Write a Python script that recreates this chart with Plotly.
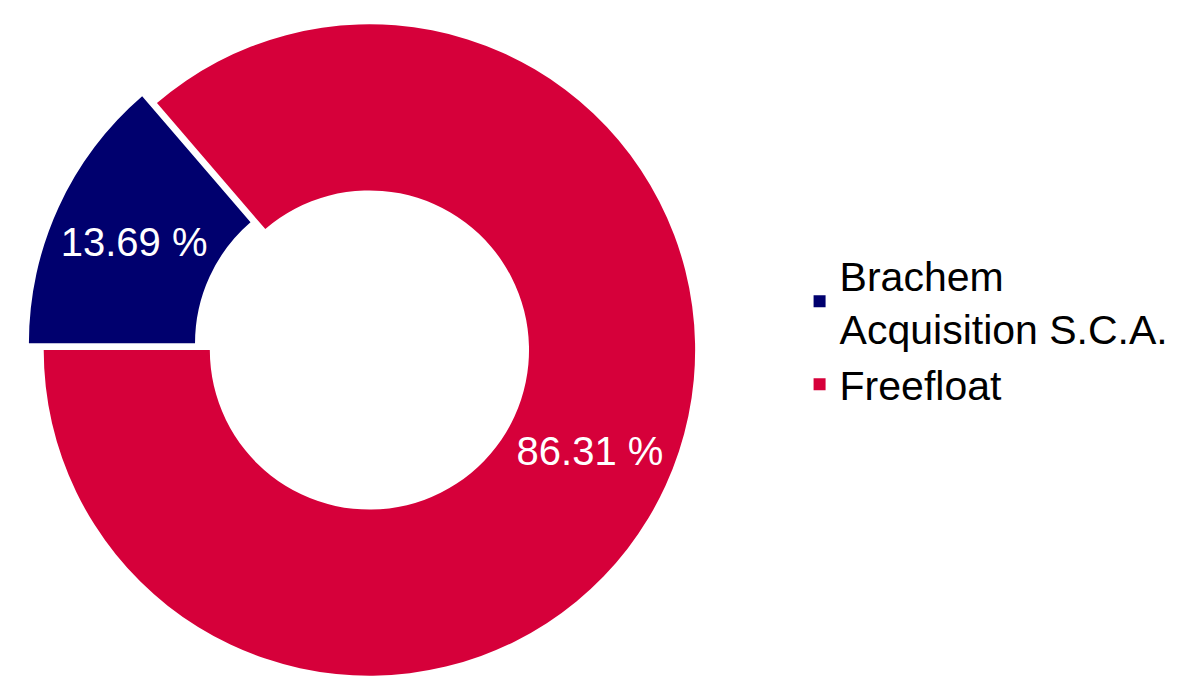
import plotly.graph_objects as go

labels = ["Brachem<br>Acquisition S.C.A.", "Freefloat"]
values = [13.69, 86.31]
colors = ["#00006e", "#d6003a"]
pulls = [0.05, 0]

fig = go.Figure(go.Pie(
    labels=labels,
    values=values,
    hole=0.49,
    sort=False,
    direction="counterclockwise",
    rotation=-90,
    pull=pulls,
    marker=dict(colors=colors, line=dict(width=0)),
    texttemplate="%{value:.2f} %",
    textposition="inside",
    insidetextorientation="horizontal",
    textfont=dict(color="white", size=40, family="Liberation Sans, Arial, sans-serif"),
    domain=dict(x=[0, 0.61], y=[0, 1]),
    hoverinfo="label+percent",
))

fig.update_layout(
    width=1185, height=684,
    margin=dict(l=0, r=0, t=0, b=0),
    paper_bgcolor="white",
    plot_bgcolor="white",
    font=dict(family="Liberation Sans, Arial, sans-serif", color="black"),
    legend=dict(
        x=0.668, y=0.53, xanchor="left", yanchor="middle",
        font=dict(size=41, color="black"),
        tracegroupgap=6,
    ),
    showlegend=True,
)

fig.write_html("out.html")
